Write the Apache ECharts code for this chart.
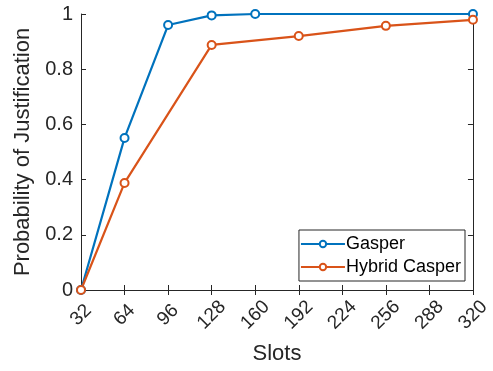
<!DOCTYPE html>
<html>
<head>
<meta charset="utf-8">
<script src="https://cdn.jsdelivr.net/npm/echarts@6/dist/echarts.min.js"></script>
<style>
  html, body { margin: 0; padding: 0; background: #fff; }
  #chart { width: 493px; height: 371px; }
</style>
</head>
<body>
<div id="chart"></div>
<script>
// Slot counts on the x axis and justification probabilities per protocol
const slotTicks = [32, 64, 96, 128, 160, 192, 224, 256, 288, 320];
const gasperSlots = [32, 64, 96, 128, 160, 320];
const gasperProb = [0, 0.551, 0.960, 0.995, 1.0, 1.0];
const hybridSlots = [32, 64, 128, 192, 256, 320];
const hybridProb = [0, 0.388, 0.888, 0.920, 0.957, 0.979];

const font = 'Liberation Sans, Arial, sans-serif';
const ink = '#262626';
const pair = (xs, ys) => xs.map((x, i) => [x, ys[i]]);

const chart = echarts.init(document.getElementById('chart'), null, { renderer: 'canvas' });

const axisLine = { show: true, lineStyle: { color: ink, width: 1 } };
const tickIn = { show: true, inside: true, length: 5, lineStyle: { color: ink, width: 1 } };

chart.setOption({
  animation: false,
  backgroundColor: '#fff',
  grid: { left: 81, right: 18, top: 14, bottom: 81, containLabel: false },
  xAxis: [{
    type: 'value',
    min: 32, max: 320, interval: 32,
    name: 'Slots',
    nameLocation: 'middle',
    nameGap: 53,
    nameTextStyle: { fontFamily: font, fontSize: 22, color: ink },
    axisLine: axisLine,
    axisTick: tickIn,
    splitLine: { show: false },
    axisLabel: {
      rotate: 45, margin: 25,
      align: 'center', verticalAlign: 'middle',
      fontFamily: font, fontSize: 19, color: ink,
      formatter: v => slotTicks.includes(v) ? String(v) : ''
    }
  }, {
    type: 'value', position: 'top',
    min: 32, max: 320, interval: 32,
    axisLine: axisLine, axisTick: tickIn,
    axisLabel: { show: false }, splitLine: { show: false }
  }],
  yAxis: [{
    type: 'value',
    min: 0, max: 1, interval: 0.2,
    name: 'Probability of Justification',
    nameLocation: 'middle',
    nameGap: 40,
    nameTextStyle: { fontFamily: font, fontSize: 22, color: ink },
    axisLine: axisLine,
    axisTick: tickIn,
    splitLine: { show: false },
    axisLabel: {
      margin: 8, fontFamily: font, fontSize: 20, color: ink,
      formatter: v => (v === 0 || v === 1) ? String(v) : v.toFixed(1)
    }
  }, {
    type: 'value', position: 'right',
    min: 0, max: 1, interval: 0.2,
    axisLine: axisLine, axisTick: tickIn,
    axisLabel: { show: false }, splitLine: { show: false }
  }],
  legend: {
    orient: 'vertical',
    right: 28, bottom: 90,
    backgroundColor: '#fff',
    borderColor: ink, borderWidth: 1,
    padding: [5, 4, 5, 1],
    itemGap: 5,
    itemWidth: 44, itemHeight: 8,
    textStyle: { fontFamily: font, fontSize: 18, lineHeight: 18, color: '#000', padding: [0, 0, 0, -4] },
    data: ['Gasper', 'Hybrid Casper']
  },
  series: [{
    name: 'Gasper',
    type: 'line',
    data: pair(gasperSlots, gasperProb),
    color: '#0072BD',
    lineStyle: { width: 2.2 },
    symbol: 'emptyCircle', symbolSize: 8,
    itemStyle: { borderWidth: 2 },
    clip: false
  }, {
    name: 'Hybrid Casper',
    type: 'line',
    data: pair(hybridSlots, hybridProb),
    color: '#D95319',
    lineStyle: { width: 2.2 },
    symbol: 'emptyCircle', symbolSize: 8,
    itemStyle: { borderWidth: 2 },
    clip: false
  }]
});
</script>
</body>
</html>
